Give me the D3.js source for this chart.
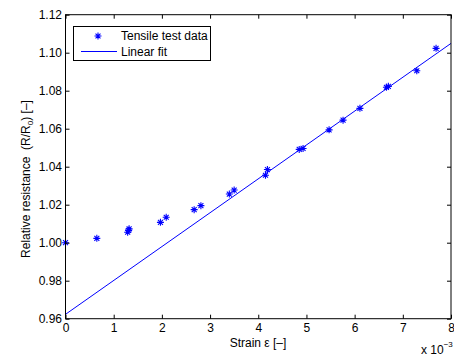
<!DOCTYPE html>
<html>
<head>
<meta charset="utf-8">
<script src="https://cdn.jsdelivr.net/npm/d3@7"></script>
<style>
  body { margin: 0; background: #fff; }
  svg { font-family: "Liberation Sans", Arial, sans-serif; font-size: 12px; }
</style>
</head>
<body>
<svg width="454" height="356"></svg>
<script>
// strain in units of 1e-3, relative resistance R/R0
var strain = [0, 0.65, 1.29, 1.31, 1.32, 1.97, 2.09, 2.67, 2.81, 3.40, 3.50,
              4.15, 4.19, 4.85, 4.93, 5.47, 5.76, 6.11, 6.66, 6.70, 7.29, 7.69];
var resistance = [1.0000, 1.0023, 1.0055, 1.0065, 1.0073, 1.0107, 1.0134, 1.0174, 1.0195, 1.0256, 1.0277,
                  1.0355, 1.0385, 1.0491, 1.0496, 1.0594, 1.0645, 1.0707, 1.0818, 1.0823, 1.0905, 1.1023];
var fitX = [0, 8];
var fitY = [0.9623, 1.1049];
var xTicks = [0, 1, 2, 3, 4, 5, 6, 7, 8];
var yTicks = [0.96, 0.98, 1.00, 1.02, 1.04, 1.06, 1.08, 1.10, 1.12];

var svg = d3.select("svg"),
    pLeft = 65.5, pRight = 451, pTop = 14.7, pBottom = 318.7;

var x = d3.scaleLinear().domain([0, 8]).range([pLeft, pRight]);
var y = d3.scaleLinear().domain([0.96, 1.12]).range([pBottom, pTop]);

var points = strain.map(function(s, i) { return {x: s, y: resistance[i]}; });

// fit line
svg.append("path")
  .datum(fitX.map(function(v, i) { return [v, fitY[i]]; }))
  .attr("fill", "none")
  .attr("stroke", "#0000ff")
  .attr("stroke-width", 1)
  .attr("d", d3.line().x(function(d) { return x(d[0]); }).y(function(d) { return y(d[1]); }));

// asterisk markers
function star(g, r) {
  var d = r * 0.707;
  g.append("path")
    .attr("d", "M" + -r + ",0L" + r + ",0M0," + -r + "L0," + r +
               "M" + -d + "," + -d + "L" + d + "," + d +
               "M" + -d + "," + d + "L" + d + "," + -d)
    .attr("stroke", "#0000ff")
    .attr("stroke-width", 1.1)
    .attr("fill", "none");
}

svg.append("g").selectAll("g")
  .data(points)
  .enter().append("g")
    .attr("transform", function(d) { return "translate(" + x(d.x) + "," + y(d.y) + ")"; })
    .each(function() { star(d3.select(this), 3.5); });

// axes, ticks inward on all four sides
var tl = 4;
svg.append("g")
  .attr("transform", "translate(0," + pBottom + ")")
  .call(d3.axisBottom(x).tickValues(xTicks).tickSize(-tl).tickPadding(5).tickFormat(d3.format("d")))
  .call(function(g) { g.select(".domain").remove(); });
svg.append("g")
  .attr("transform", "translate(0," + pTop + ")")
  .call(d3.axisTop(x).tickValues(xTicks).tickSize(-tl).tickFormat(""))
  .call(function(g) { g.select(".domain").remove(); });
svg.append("g")
  .attr("transform", "translate(" + pLeft + ",0)")
  .call(d3.axisLeft(y).tickValues(yTicks).tickSize(-tl).tickPadding(3.5).tickFormat(d3.format(".2f")))
  .call(function(g) { g.select(".domain").remove(); });
svg.append("g")
  .attr("transform", "translate(" + pRight + ",0)")
  .call(d3.axisRight(y).tickValues(yTicks).tickSize(-tl).tickFormat(""))
  .call(function(g) { g.select(".domain").remove(); });

svg.selectAll(".tick text").attr("font-size", "12px").attr("font-family", "Liberation Sans, Arial, sans-serif").attr("fill", "#000");
svg.selectAll(".tick line").attr("stroke", "#000");

svg.append("rect")
  .attr("x", pLeft).attr("y", pTop)
  .attr("width", pRight - pLeft).attr("height", pBottom - pTop)
  .attr("fill", "none").attr("stroke", "#000").attr("stroke-width", 1);

// labels
svg.append("text")
  .attr("x", 258).attr("y", 347)
  .attr("text-anchor", "middle")
  .text("Strain \u03b5 [\u2013]");

var ex = svg.append("text").attr("x", 421).attr("y", 354);
ex.append("tspan").text("x 10");
ex.append("tspan").attr("dy", -7).attr("font-size", "8px").text("\u22123");

var yl = svg.append("text")
  .attr("transform", "translate(30,179) rotate(-90)")
  .attr("text-anchor", "middle")
  .style("white-space", "pre");
yl.append("tspan").text("Relative resistance  (R/R");
yl.append("tspan").attr("dy", 3).attr("font-size", "8px").text("0");
yl.append("tspan").attr("dy", -3).text(") [\u2013]");

// legend
var lg = svg.append("g");
lg.append("rect")
  .attr("x", 73.5).attr("y", 26.5).attr("width", 137).attr("height", 34)
  .attr("fill", "#fff").attr("stroke", "#000").attr("stroke-width", 1);
star(lg.append("g").attr("transform", "translate(98,36)"), 3.5);
lg.append("line")
  .attr("x1", 81).attr("x2", 117).attr("y1", 51.5).attr("y2", 51.5)
  .attr("stroke", "#0000ff").attr("stroke-width", 1);
lg.append("text").attr("x", 121).attr("y", 40).text("Tensile test data");
lg.append("text").attr("x", 121).attr("y", 55.5).text("Linear fit");
</script>
</body>
</html>
